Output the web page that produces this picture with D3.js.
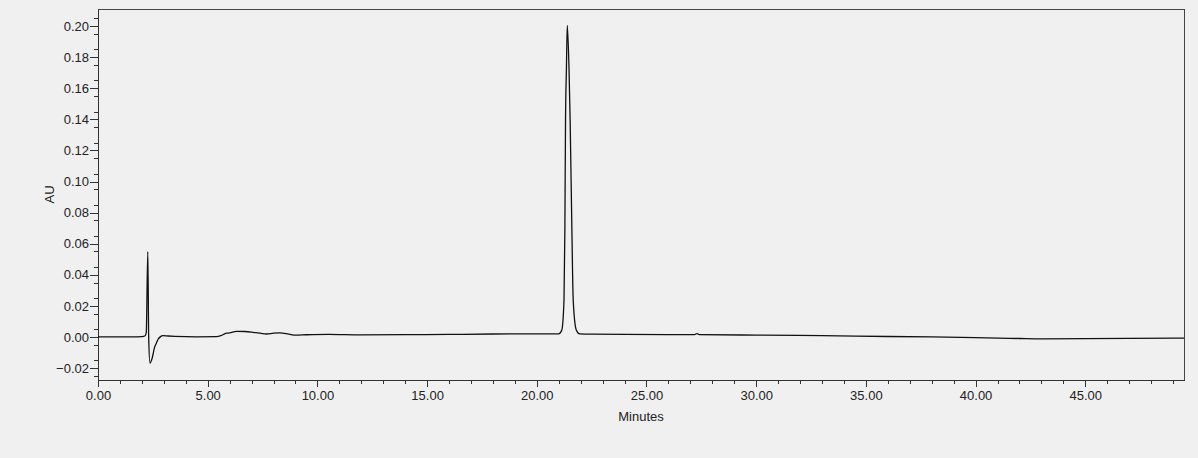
<!DOCTYPE html>
<html lang="en">
	<head>
		<meta charset="utf-8">
		<title>Chromatogram</title>
		<style type="text/css">
			body {
				margin: 0;
				background-color: #f0f0f0;
				font-family: "Liberation Sans", Arial, Helvetica, sans-serif;
			}
			svg {
				display: block;
				background-color: #f0f0f0;
			}
			.axis path,
			.axis line {
				fill: none;
				stroke: #333;
				shape-rendering: crispEdges;
			}
			.axis text {
				font-family: "Liberation Sans", Arial, sans-serif;
				font-size: 13px;
				fill: #222;
			}
			.frame {
				fill: none;
				stroke: #444;
				shape-rendering: crispEdges;
			}
			.trace {
				fill: none;
				stroke: #111;
				stroke-width: 1.3px;
			}
			.label {
				font-size: 13px;
				fill: #222;
			}
		</style>
	</head>
	<body>
	<script src="https://cdnjs.cloudflare.com/ajax/libs/d3/7.8.5/d3.min.js"></script>
	<script type="text/javascript">

		// retention time (minutes) and absorbance (AU)
		var minutes = [0, 1.5, 2.0, 2.15, 2.2, 2.27, 2.31, 2.37, 2.45, 2.59, 2.66, 2.74, 2.85, 2.96, 3.2, 3.5,
			4.5, 5.4, 5.6, 5.85, 6.0, 6.31, 6.7, 7.07, 7.4, 7.68, 8.0, 8.29, 8.7, 9.0, 9.5, 10.5,
			12, 14, 16, 18, 20, 21.0, 21.14, 21.24, 21.28, 21.31, 21.35, 21.39, 21.47, 21.52, 21.60,
			21.66, 21.80, 21.95, 22.5, 24, 26, 27.2, 27.3, 27.4, 30, 33, 36, 38, 40, 42, 43, 45, 47, 49.5];

		var au = [0, 0, 0.0002, 0.0008, 0.003, 0.0549, 0.0, -0.0169, -0.0145, -0.0062, -0.0040, -0.0015, 0.0002, 0.0008, 0.0006, 0.0004,
			0.0001, 0.0002, 0.0008, 0.0024, 0.0026, 0.0036, 0.0035, 0.0030, 0.0024, 0.0019, 0.0024, 0.0026, 0.0018, 0.0012, 0.0014, 0.0016,
			0.0013, 0.0015, 0.0016, 0.0019, 0.0020, 0.0020, 0.0045, 0.0238, 0.0688, 0.1395, 0.1720, 0.2005, 0.1720, 0.1395, 0.0688,
			0.0238, 0.0045, 0.0020, 0.0018, 0.0017, 0.0015, 0.0015, 0.0022, 0.0015, 0.0012, 0.0008, 0.0003, 0.0, -0.0005, -0.0010, -0.0012, -0.0011, -0.0009, -0.0008];

		var xTicks = [0, 5, 10, 15, 20, 25, 30, 35, 40, 45];
		var yTicks = [-0.02, 0, 0.02, 0.04, 0.06, 0.08, 0.10, 0.12, 0.14, 0.16, 0.18, 0.20];

		var fullwidth = 1198;
		var fullheight = 458;
		var margin = { top: 9, right: 14, bottom: 78, left: 98 };
		var width = fullwidth - margin.left - margin.right;
		var height = fullheight - margin.top - margin.bottom;

		var svg = d3.select("body")
			.append("svg")
			.attr("width", fullwidth)
			.attr("height", fullheight)
			.append("g")
			.attr("transform", "translate(" + margin.left + "," + margin.top + ")");

		var xScale = d3.scaleLinear()
			.domain([0, 49.5])
			.range([0, width]);

		var yScale = d3.scaleLinear()
			.domain([-0.0277, 0.211])
			.range([height, 0]);

		// minor ticks first, majors on top
		var xMinor = d3.range(0, 50).filter(function(d) { return d % 5 !== 0; });
		var yMinor = d3.range(-5, 43).map(function(d) { return d * 0.005; })
			.filter(function(d, i) { return (i + 1) % 4 !== 0; });

		svg.append("g")
			.attr("class", "x axis")
			.attr("transform", "translate(0," + height + ")")
			.call(d3.axisBottom(xScale).tickValues(xMinor).tickFormat("").tickSize(4).tickSizeOuter(0));

		svg.append("g")
			.attr("class", "y axis")
			.call(d3.axisLeft(yScale).tickValues(yMinor).tickFormat("").tickSize(4).tickSizeOuter(0));

		svg.append("g")
			.attr("class", "x axis")
			.attr("transform", "translate(0," + height + ")")
			.call(d3.axisBottom(xScale).tickValues(xTicks).tickFormat(d3.format(".2f"))
				.tickSize(7).tickSizeOuter(0).tickPadding(4));

		svg.append("g")
			.attr("class", "y axis")
			.call(d3.axisLeft(yScale).tickValues(yTicks).tickFormat(d3.format(".2f"))
				.tickSize(8).tickSizeOuter(0).tickPadding(1));

		// top and right edges of the plot box
		svg.append("path")
			.attr("class", "frame")
			.attr("d", "M0,0H" + width + "V" + height);

		svg.append("text")
			.attr("class", "label")
			.attr("x", width / 2)
			.attr("y", height + 41)
			.style("text-anchor", "middle")
			.text("Minutes");

		svg.append("text")
			.attr("class", "label")
			.attr("transform", "translate(-49," + (height / 2) + ") rotate(-90)")
			.attr("dy", "0.35em")
			.style("text-anchor", "middle")
			.text("AU");

		var line = d3.line()
			.x(function(d, i) { return xScale(minutes[i]); })
			.y(function(d) { return yScale(d); })
			.curve(d3.curveMonotoneX);

		svg.append("path")
			.attr("class", "trace")
			.attr("d", line(au));

	</script>
	</body>
</html>
